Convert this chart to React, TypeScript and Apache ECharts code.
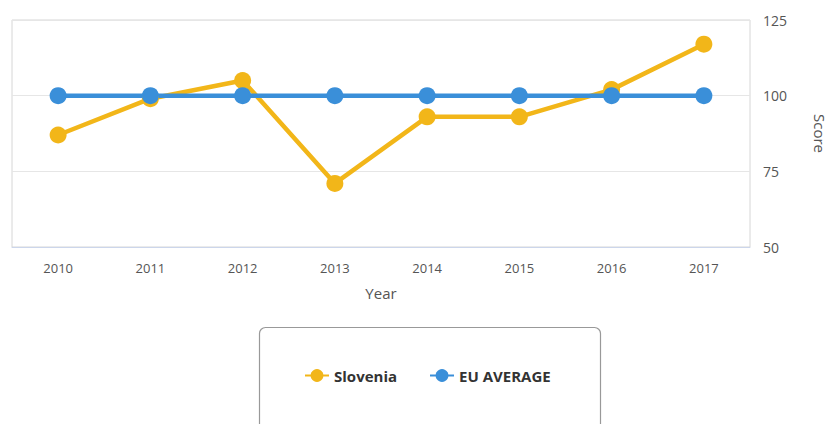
import React, { useEffect, useRef } from "react";
import * as echarts from "echarts";

const years = ["2010", "2011", "2012", "2013", "2014", "2015", "2016", "2017"];
const slovenia = [87, 99, 105, 71, 93, 93, 102, 117];
const euAverage = [100, 100, 100, 100, 100, 100, 100, 100];
const yTicks = { min: 50, max: 125, interval: 25 };

export default function App() {
  const ref = useRef<HTMLDivElement>(null);
  useEffect(() => {
    document.body.style.margin = "0";
    const chart = echarts.init(ref.current!, null, { renderer: "svg" });
    const font = "'Open Sans', 'DejaVu Sans', sans-serif";
    chart.setOption({
      animation: false,
      textStyle: { fontFamily: font },
      grid: {
        left: 12,
        right: 83,
        top: 20,
        bottom: 177,
        show: true,
        borderColor: "#d6d6d6",
        borderWidth: 1,
      },
      xAxis: {
        type: "category",
        data: years,
        name: "Year",
        nameLocation: "middle",
        nameGap: 38,
        nameTextStyle: { color: "#555", fontSize: 15, fontFamily: font },
        axisLine: { show: true, lineStyle: { color: "#ccd6eb" } },
        axisTick: { show: false },
        axisLabel: { color: "#555", fontSize: 13, margin: 14, fontFamily: font },
      },
      yAxis: {
        type: "value",
        position: "right",
        min: yTicks.min,
        max: yTicks.max,
        interval: yTicks.interval,
        name: "Score",
        nameLocation: "middle",
        nameRotate: -90,
        nameGap: 62,
        nameTextStyle: { color: "#555", fontSize: 15, fontFamily: font },
        axisLine: { show: false },
        axisTick: { show: false },
        axisLabel: { color: "#555", fontSize: 14, margin: 13, fontFamily: font },
        splitLine: { show: true, lineStyle: { color: "#e6e6e6" } },
      },
      legend: {
        left: 299,
        top: 363,
        data: ["Slovenia", "EU AVERAGE"],
        itemWidth: 24,
        itemHeight: 16,
        itemGap: 32,
        textStyle: { color: "#333", fontSize: 15, fontWeight: "bold", fontFamily: font },
      },
      graphic: [
        {
          type: "rect",
          left: 257,
          top: 325,
          shape: { width: 341, height: 120, r: 6 },
          style: { fill: "none", stroke: "#999", lineWidth: 1.2 },
          silent: true,
        },
      ],
      series: [
        {
          name: "Slovenia",
          type: "line",
          data: slovenia,
          symbol: "circle",
          symbolSize: 17,
          color: "#f2b619",
          lineStyle: { width: 4.5, color: "#f2b619" },
          itemStyle: { color: "#f2b619" },
        },
        {
          name: "EU AVERAGE",
          type: "line",
          data: euAverage,
          symbol: "circle",
          symbolSize: 17,
          color: "#3a8fd9",
          lineStyle: { width: 4.5, color: "#3a8fd9" },
          itemStyle: { color: "#3a8fd9" },
        },
      ],
    });
    return () => chart.dispose();
  }, []);
  return <div ref={ref} style={{ width: 835, height: 424 }} />;
}
